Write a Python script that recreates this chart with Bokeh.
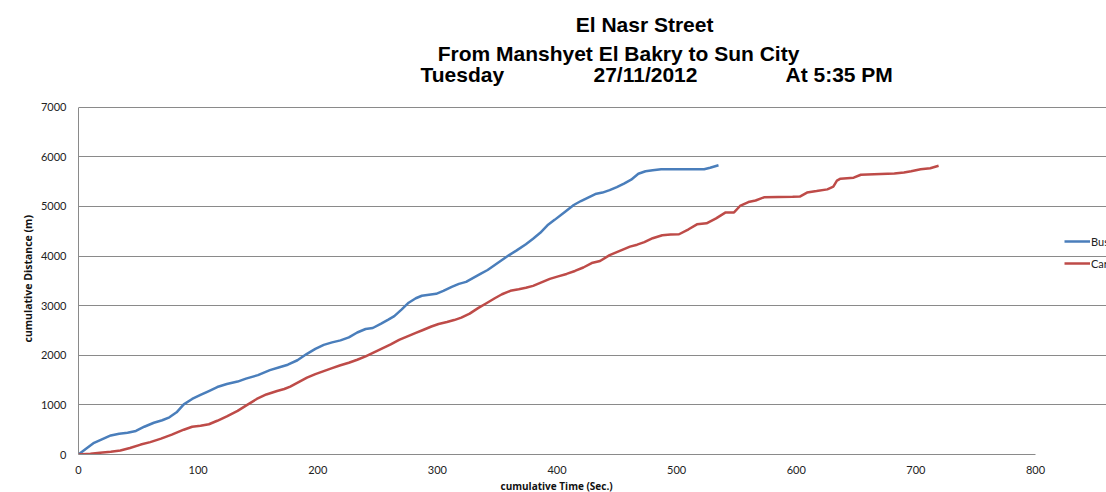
from bokeh.plotting import figure
from bokeh.models import (Label, Legend, LegendItem, FixedTicker, Range1d, Title)
from bokeh.embed import file_html
from bokeh.resources import INLINE

# ---------------- data ----------------
bus_time = [0, 6, 13, 20, 27, 34, 41, 48, 55, 63, 70, 76, 82, 88, 95, 102, 109, 116,
            124, 133, 140, 150, 160, 168, 175, 183, 191, 198, 205, 212, 219, 226, 233,
            240, 246, 253, 259, 264, 270, 276, 282, 287, 293, 299, 305, 312, 318, 324,
            330, 336, 342, 348, 354, 360, 366, 374, 380, 386, 392, 398, 406, 414, 420,
            426, 432, 438, 444, 450, 456, 462, 468, 474, 480, 487, 495, 505, 515, 523,
            528, 535]
bus_dist = [0, 110, 235, 310, 385, 420, 440, 475, 560, 640, 690, 750, 850, 1010, 1120,
            1200, 1280, 1360, 1420, 1470, 1530, 1600, 1700, 1760, 1810, 1900, 2030, 2130,
            2210, 2260, 2300, 2360, 2460, 2530, 2550, 2640, 2720, 2790, 2920, 3060, 3150,
            3200, 3220, 3240, 3300, 3380, 3440, 3480, 3560, 3640, 3720, 3820, 3920, 4020,
            4110, 4240, 4350, 4470, 4620, 4730, 4880, 5030, 5110, 5180, 5250, 5280, 5330,
            5390, 5460, 5540, 5660, 5710, 5730, 5750, 5750, 5750, 5750, 5750, 5780, 5830]

car_time = [0, 10, 18, 27, 35, 43, 52, 60, 69, 78, 88, 95, 102, 109, 116, 124, 133, 141,
            149, 157, 166, 172, 177, 184, 191, 198, 205, 212, 219, 226, 233, 240, 247,
            254, 261, 268, 275, 282, 288, 295, 301, 308, 314, 320, 327, 334, 341, 348,
            354, 361, 368, 374, 380, 387, 394, 401, 408, 415, 422, 429, 436, 444, 452,
            461, 467, 473, 480, 488, 495, 502, 510, 517, 525, 533, 541, 548, 553, 560,
            566, 573, 585, 597, 603, 609, 617, 626, 631, 634, 637, 648, 654, 665, 682,
            690, 696, 704, 712, 719]
car_dist = [0, 15, 35, 55, 80, 130, 200, 250, 320, 400, 500, 560, 580, 610, 680, 770, 880,
            1000, 1120, 1210, 1280, 1320, 1370, 1460, 1550, 1620, 1680, 1740, 1800, 1850,
            1910, 1980, 2060, 2140, 2220, 2310, 2380, 2450, 2510, 2580, 2630, 2670, 2710,
            2760, 2840, 2950, 3050, 3150, 3230, 3300, 3330, 3360, 3400, 3470, 3540, 3590,
            3640, 3700, 3770, 3860, 3900, 4020, 4100, 4190, 4230, 4280, 4360, 4420, 4435,
            4440, 4540, 4640, 4660, 4760, 4880, 4880, 5010, 5090, 5120, 5185, 5190, 5195,
            5200, 5280, 5310, 5345, 5400, 5520, 5560, 5580, 5640, 5650, 5665, 5685, 5710,
            5750, 5770, 5820]

series_names = ["Bus", "Car"]
x_ticks = [0, 100, 200, 300, 400, 500, 600, 700, 800]
y_ticks = [0, 1000, 2000, 3000, 4000, 5000, 6000, 7000]
title_lines = ["El Nasr  Street", "From Manshyet El Bakry to Sun City"]
title_parts = ["Tuesday", "27/11/2012", "At 5:35 PM"]
x_label = "cumulative Time (Sec.)"
y_label = "cumulative Distance (m)"

# ---------------- layout ----------------
W, H = 1106, 492
X0_PX, X800_PX = 78, 1035      # page px of x=0 and x=800
Y0_PX, Y7000_PX = 455, 107     # page px of y=0 and y=7000
XMAX, YMAX = 800, 7000
SX = XMAX / (X800_PX - X0_PX)  # data per px
SY = YMAX / (Y0_PX - Y7000_PX)

def dx(page_x):
    return (page_x - X0_PX) * SX

def dy(page_y):
    return (Y0_PX - page_y) * SY

# frame spans from the axes to the top/right edges of the canvas
p = figure(width=W, height=H, output_backend="svg", toolbar_location=None,
           x_range=Range1d(0, dx(W)), y_range=Range1d(0, dy(0)),
           min_border_left=X0_PX, min_border_right=0,
           min_border_top=0, min_border_bottom=H - Y0_PX)
p.outline_line_color = None
p.background_fill_color = "white"
p.border_fill_color = "white"

grid_col = "#8a8a8a"
p.xgrid.grid_line_color = None
p.ygrid.grid_line_color = grid_col
p.ygrid.grid_line_width = 1
p.ygrid.ticker = FixedTicker(ticks=y_ticks)
p.ygrid.bounds = (0, XMAX)

for ax in (p.xaxis[0], p.yaxis[0]):
    ax.axis_line_color = grid_col
    ax.major_tick_line_color = None
    ax.minor_tick_line_color = None
    ax.major_label_text_font = "Lato"
    ax.major_label_text_font_size = "11px"
    ax.major_label_text_color = "#222222"
p.xaxis[0].ticker = FixedTicker(ticks=x_ticks)
p.yaxis[0].ticker = FixedTicker(ticks=y_ticks)
p.xaxis[0].bounds = (0, XMAX)
p.yaxis[0].bounds = (0, YMAX)
p.xaxis[0].major_tick_out = 0
p.xaxis[0].major_label_standoff = 11
p.yaxis[0].major_tick_out = 0
p.yaxis[0].major_label_standoff = 12

# axis titles, positioned along the bounded axes
p.add_layout(Title(text=x_label, align="left", offset=500 - X0_PX, standoff=0,
                   text_font="Open Sans", text_font_style="bold", text_font_size="10px",
                   text_color="#111111"), "below")
p.add_layout(Title(text=y_label, align="left", offset=Y0_PX - 343, standoff=5,
                   text_font="Open Sans", text_font_style="bold", text_font_size="10.5px",
                   text_color="#111111"), "left")

r_bus = p.line(bus_time, bus_dist, line_color="#4a7ebb", line_width=2.5)
r_car = p.line(car_time, car_dist, line_color="#be4b48", line_width=2.5)

legend = Legend(items=[LegendItem(label=series_names[0], renderers=[r_bus]),
                       LegendItem(label=series_names[1], renderers=[r_car])],
                location=(1064 - X0_PX, Y0_PX - 274),
                glyph_width=26, glyph_height=20, label_height=20,
                label_standoff=1, spacing=2, padding=0, margin=0,
                border_line_color=None, background_fill_alpha=0,
                label_text_font="Lato", label_text_font_size="11px",
                label_text_color="#222222")
p.add_layout(legend)

# chart title
TITLE_SIZE = 21
BASE_SHIFT = 7 * TITLE_SIZE / 20

def title_label(txt, px, py, align):
    return Label(x=dx(px), y=dy(py - BASE_SHIFT), text=txt, text_align=align,
                 text_baseline="alphabetic", text_font="Liberation Sans",
                 text_font_style="bold", text_font_size=f"{TITLE_SIZE}px",
                 text_color="black")

p.add_layout(title_label(title_lines[0], 647, 31, "center"))
p.add_layout(title_label(title_lines[1], 618, 60.7, "center"))
for txt, px in zip(title_parts, [420, 593, 785]):
    p.add_layout(title_label(txt, px, 81.7, "left"))

open("out.html", "w").write(file_html(p, INLINE))
